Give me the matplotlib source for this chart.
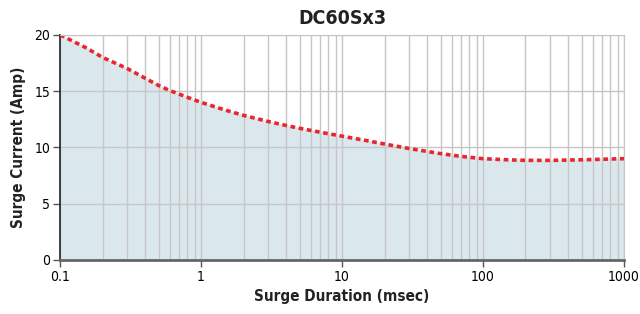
import matplotlib.pyplot as plt
from matplotlib.ticker import FixedLocator, FixedFormatter, NullFormatter

#Values
duration = [0.1, 0.15, 0.2, 0.3, 0.4, 0.5, 0.6, 0.8, 1, 1.5, 2, 3, 4, 5, 7, 10,
            15, 20, 30, 50, 70, 100, 150, 200, 300, 500, 700, 1000]
current = [20.0, 18.9, 18.0, 17.0, 16.15, 15.5, 15.05, 14.45, 14.0, 13.3, 12.85, 12.3,
           11.95, 11.7, 11.35, 11.0, 10.6, 10.3, 9.9, 9.45, 9.2, 9.0, 8.9, 8.85,
           8.85, 8.9, 8.95, 9.0]
major_x = [0.1, 1, 10, 100, 1000]
major_x_labels = ["0.1", "1", "10", "100", "1000"]
y_ticks = [0, 5, 10, 15, 20]

#Condensed look like the reference
plt.rcParams['font.family'] = ['DejaVu Sans']
plt.rcParams['font.stretch'] = 'condensed'

fig = plt.figure(figsize=(6.4, 3.14), dpi=100)
ax = fig.add_axes([0.094, 0.172, 0.881, 0.717])

#Filled area under the curve
ax.fill_between(duration, current, 0, color="#dae7ed", zorder=1)
ax.plot(duration, current, color="#e8262b", linewidth=2.6, linestyle=(0, (1.3, 1.0)),
        dash_capstyle="butt", zorder=4)

ax.set_xscale("log")
ax.set_xlim(0.1, 1000)
ax.set_ylim(0, 20)

ax.xaxis.set_major_locator(FixedLocator(major_x))
ax.xaxis.set_major_formatter(FixedFormatter(major_x_labels))
minor = [m * d for d in [0.1, 1, 10, 100] for m in range(2, 10)]
ax.xaxis.set_minor_locator(FixedLocator(minor))
ax.xaxis.set_minor_formatter(NullFormatter())
ax.set_yticks(y_ticks)

ax.grid(True, which="both", axis="x", color="#c6c6c6", linewidth=1.0)
ax.grid(True, which="major", axis="y", color="#c6c6c6", linewidth=1.0)
for line in ax.get_xgridlines() + ax.get_ygridlines():
    line.set_zorder(2)

ax.tick_params(axis="x", which="major", length=5, width=1, color="#555555", labelsize=10, pad=2)
ax.tick_params(axis="x", which="minor", length=0)
ax.tick_params(axis="y", length=5, width=1, color="#555555", labelsize=10, pad=2)

ax.spines["left"].set_color("#222222")
ax.spines["left"].set_linewidth(1.2)
ax.spines["bottom"].set_color("#666666")
ax.spines["bottom"].set_linewidth(2.0)
ax.spines["top"].set_color("#c6c6c6")
ax.spines["right"].set_color("#c6c6c6")
for s in ax.spines.values():
    s.set_zorder(5)

ax.set_title("DC60Sx3", fontsize=14, fontweight="bold", color="#222222", pad=8)
ax.set_xlabel("Surge Duration (msec)", fontsize=11, fontweight="bold", color="#222222", labelpad=4)
ax.set_ylabel("Surge Current (Amp)", fontsize=11, fontweight="bold", color="#222222", labelpad=6)

fig.savefig("out.png", dpi=100)
